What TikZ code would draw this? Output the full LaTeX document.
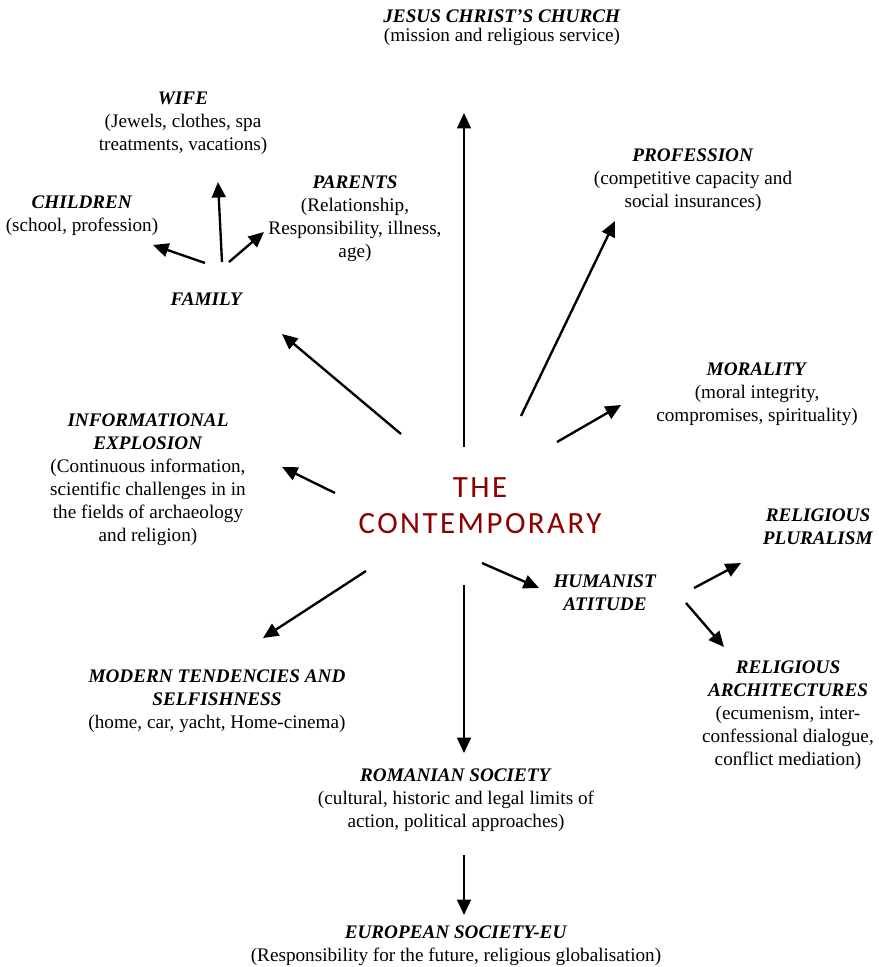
\documentclass[tikz,border=0pt]{standalone}
\usepackage{fontspec}
\setmainfont{Liberation Serif}
\newfontfamily\centrefont[LetterSpace=8]{Carlito}
\usetikzlibrary{arrows.meta}
\definecolor{contred}{RGB}{140,0,0}
\newcommand{\ttl}[1]{\textbf{\textit{#1}}}
\tikzset{
    topic/.style={align=center, anchor=north, inner sep=0pt, font=\fontsize{11.8}{14.15}\selectfont},
    arr/.style={-{Triangle[length=9.5pt, width=8.5pt]}, line width=1.45pt},
}
\begin{document}
\begin{tikzpicture}[x=0.615pt, y=-0.615pt]
                \useasboundingbox (0,0) rectangle (879,967);

                % centre
                \node[anchor=north, align=center, inner sep=0pt, text=contred, font=\centrefont\fontsize{19}{22.1}\selectfont] (centre) at (480,477) {THE\\CONTEMPORARY};

                % topics
                \node[topic] (church) at (502,9) {\ttl{JESUS CHRIST'S CHURCH}\\[-2.4pt](mission and religious service)};
                \node[topic] (family) at (207,293) {\ttl{FAMILY}};
                \node[topic] (wife) at (183,92) {\ttl{WIFE}\\(Jewels, clothes, spa\\treatments, vacations)};
                \node[topic] (children) at (82,195) {\ttl{CHILDREN}\\(school, profession)};
                \node[topic] (parents) at (355,175) {\ttl{PARENTS}\\(Relationship,\\Responsibility, illness,\\age)};
                \node[topic] (profession) at (693,148) {\ttl{PROFESSION}\\(competitive capacity and\\social insurances)};
                \node[topic] (morality) at (757,362) {\ttl{MORALITY}\\(moral integrity,\\compromises, spirituality)};
                \node[topic] (info) at (148,413) {\ttl{INFORMATIONAL}\\\ttl{EXPLOSION}\\(Continuous information,\\scientific challenges in in\\the fields of archaeology\\and religion)};
                \node[topic] (humanist) at (605,574) {\ttl{HUMANIST}\\\ttl{ATITUDE}};
                \node[topic] (pluralism) at (818,508) {\ttl{RELIGIOUS}\\\ttl{PLURALISM}};
                \node[topic] (archit) at (788,660) {\ttl{RELIGIOUS}\\\ttl{ARCHITECTURES}\\(ecumenism, inter-\\confessional dialogue,\\conflict mediation)};
                \node[topic] (modern) at (217,669) {\ttl{MODERN TENDENCIES AND}\\\ttl{SELFISHNESS}\\(home, car, yacht, Home-cinema)};
                \node[topic] (romanian) at (456,768) {\ttl{ROMANIAN SOCIETY}\\(cultural, historic and legal limits of\\action, political approaches)};
                \node[topic] (europe) at (456,925) {\ttl{EUROPEAN SOCIETY-EU}\\(Responsibility for the future, religious globalisation)};

                % arrow ends
                \coordinate (c-church) at (464,447);   \coordinate (to-church) at (464,113);
                \coordinate (c-family) at (401,434);   \coordinate (to-family) at (282,334);
                \coordinate (c-prof) at (521,416);     \coordinate (to-prof) at (615,221);
                \coordinate (c-moral) at (557,442);    \coordinate (to-moral) at (621,405);
                \coordinate (c-info) at (335,493);     \coordinate (to-info) at (282,467);
                \coordinate (c-modern) at (366,571);   \coordinate (to-modern) at (263,638);
                \coordinate (c-roman) at (464,585);    \coordinate (to-roman) at (464,753);
                \coordinate (c-human) at (482,563);    \coordinate (to-human) at (539,588);
                \coordinate (h-plural) at (694,588);   \coordinate (to-plural) at (741,563);
                \coordinate (h-archit) at (686,603);   \coordinate (to-archit) at (724,647);
                \coordinate (r-europe) at (464,855);   \coordinate (to-europe) at (464,915);
                \coordinate (f-child) at (205,263);    \coordinate (to-child) at (153,245);
                \coordinate (f-wife) at (222,262);     \coordinate (to-wife) at (218,182);
                \coordinate (f-parent) at (229,262);   \coordinate (to-parent) at (264,232);

                \draw[arr] (c-church) -- (to-church);
                \draw[arr] (c-family) -- (to-family);
                \draw[arr] (c-prof) -- (to-prof);
                \draw[arr] (c-moral) -- (to-moral);
                \draw[arr] (c-info) -- (to-info);
                \draw[arr] (c-modern) -- (to-modern);
                \draw[arr] (c-roman) -- (to-roman);
                \draw[arr] (c-human) -- (to-human);
                \draw[arr] (h-plural) -- (to-plural);
                \draw[arr] (h-archit) -- (to-archit);
                \draw[arr] (r-europe) -- (to-europe);
                \draw[arr] (f-child) -- (to-child);
                \draw[arr] (f-wife) -- (to-wife);
                \draw[arr] (f-parent) -- (to-parent);
            \end{tikzpicture}
\end{document}
